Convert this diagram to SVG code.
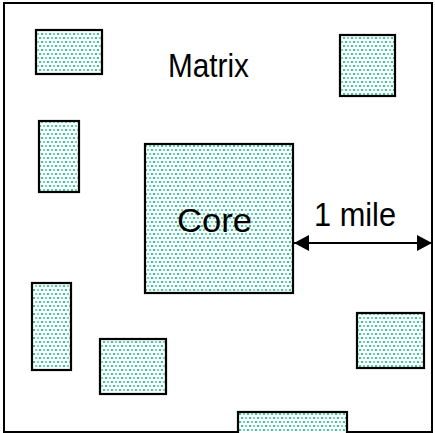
<svg xmlns="http://www.w3.org/2000/svg" width="435" height="433" viewBox="0 0 435 433">
<defs>
<pattern id="dots" x="0" y="0" width="8" height="8" patternUnits="userSpaceOnUse">
<rect width="8" height="8" fill="#ffffff"/>
<rect x="1" y="1" width="2" height="2" fill="#2dcc9a"/>
<rect x="5" y="1" width="2" height="2" fill="#70dcbc"/>
<rect x="3" y="5" width="2" height="2" fill="#70dcbc"/>
<rect x="7" y="5" width="1" height="2" fill="#2dcc9a"/>
<rect x="0" y="5" width="1" height="2" fill="#2dcc9a"/>
</pattern>
<marker id="ah" viewBox="0 0 15 16" refX="15" refY="8" markerWidth="15" markerHeight="16" markerUnits="userSpaceOnUse" orient="auto-start-reverse">
<path d="M0,0 L15,8 L0,16 Z" fill="#000"/>
</marker>
</defs>
<style>
.patch{fill:url(#dots);stroke:#000;stroke-width:2.2}
.lbl{font-family:"Liberation Sans",Arial,sans-serif;font-size:34px;fill:#000}
</style>
<rect x="4" y="3" width="428" height="429" fill="#fff" stroke="#000" stroke-width="2"/>
<g id="matrix"><text class="lbl" x="168" y="77" textLength="81" lengthAdjust="spacingAndGlyphs">Matrix</text></g>
<g id="patch1"><rect class="patch" x="36" y="30" width="66" height="44"/></g>
<g id="patch2"><rect class="patch" x="340" y="35" width="55" height="61"/></g>
<g id="patch3"><rect class="patch" x="39" y="121" width="40" height="71"/></g>
<g id="core"><rect class="patch" x="145" y="144" width="148" height="149"/><text class="lbl" x="177" y="232" textLength="75" lengthAdjust="spacingAndGlyphs">Core</text></g>
<g id="patch4"><rect class="patch" x="32" y="283" width="39" height="87"/></g>
<g id="patch5"><rect class="patch" x="100" y="339" width="66" height="55"/></g>
<g id="patch6"><rect class="patch" x="357" y="313" width="67" height="55"/></g>
<g id="patch7"><rect class="patch" x="238" y="412" width="109" height="30"/></g>
<g id="connectors">
<line x1="294" y1="243" x2="432" y2="243" stroke="#000" stroke-width="2" marker-start="url(#ah)" marker-end="url(#ah)"/>
<text class="lbl" x="314" y="226" textLength="82" lengthAdjust="spacingAndGlyphs">1 mile</text>
</g>
</svg>
